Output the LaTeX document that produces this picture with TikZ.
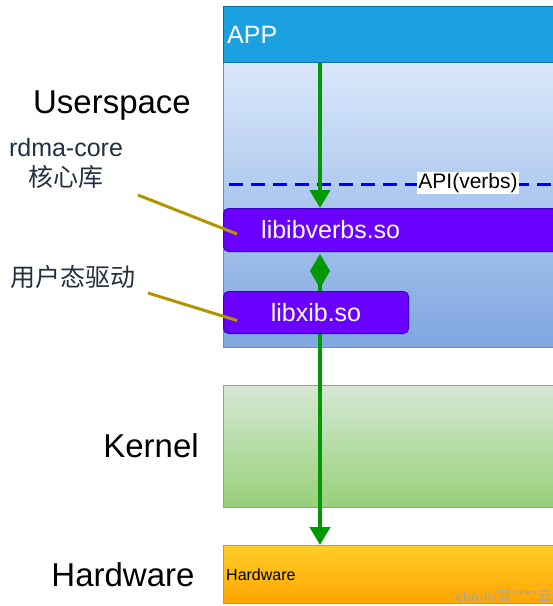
\documentclass[tikz,border=0pt]{standalone}
\usepackage{fontspec}
\setmainfont{Liberation Sans}
\newfontfamily\cjk{Noto Sans CJK SC}
\usetikzlibrary{arrows.meta,positioning}

\definecolor{appfill}{HTML}{1BA1E2}
\definecolor{appline}{HTML}{006EAF}
\definecolor{usertop}{HTML}{DAE8FC}
\definecolor{userbot}{HTML}{7EA6E0}
\definecolor{userline}{HTML}{6C8EBF}
\definecolor{libfill}{HTML}{6A00FF}
\definecolor{libline}{HTML}{3700CC}
\definecolor{kerntop}{HTML}{D5E8D4}
\definecolor{kernbot}{HTML}{97D077}
\definecolor{kernline}{HTML}{82B366}
\definecolor{hwtop}{HTML}{FFCD28}
\definecolor{hwbot}{HTML}{FFA500}
\definecolor{hwline}{HTML}{D79B00}
\definecolor{flowgreen}{HTML}{009900}
\definecolor{apiblue}{HTML}{0000EE}
\definecolor{pointerolive}{HTML}{B09500}
\definecolor{notetext}{HTML}{22303F}

\begin{document}
\begin{tikzpicture}[x=1pt,y=-1pt,
    layer/.style={draw, line width=1pt, inner sep=0pt, anchor=north west},
    lib/.style={layer, draw=libline, fill=libfill, rounded corners=5pt,
      text=white, font=\fontsize{25}{30}\selectfont},
    flow/.style={draw=flowgreen, line width=4pt},
    pointer/.style={draw=pointerolive, line width=3pt},
    side/.style={font=\fontsize{33}{40}\selectfont},
    note/.style={text=notetext, align=center, font=\fontsize{25}{30}\selectfont}]
  % 画布大小
  \useasboundingbox (0,0) rectangle (553,606);
  \clip (0,0) rectangle (553,606);
  % 各层的宽度
  \def\layerWidth{340pt}

  % 用户态、内核、硬件三层
  \node[layer, draw=userline, top color=usertop, bottom color=userbot,
    minimum width=\layerWidth, minimum height=285pt] (user) at (223,62) {};
  \node[layer, draw=kernline, top color=kerntop, bottom color=kernbot,
    minimum width=\layerWidth, minimum height=122pt] (kernel) at (223,385) {};
  \node[layer, draw=hwline, top color=hwtop, bottom color=hwbot,
    minimum width=\layerWidth, minimum height=58pt] (hw) at (223,545) {};
  \node[inner sep=0pt, right=3pt of hw.west, font=\fontsize{16}{19}\selectfont] (hwlbl) {Hardware};

  % 应用
  \node[layer, draw=appline, fill=appfill, minimum width=\layerWidth,
    minimum height=56pt] (app) at (223,6) {};
  \node[inner sep=0pt, right=4pt of app.west, text=white,
    font=\fontsize{25}{30}\selectfont] (applbl) {APP};

  % API 分界线
  \coordinate (apiL) at (229,184);
  \coordinate (apiR) at (560,184);
  \draw[apiblue, line width=3pt, dash pattern=on 14pt off 8pt] (apiL) -- (apiR);
  \node[fill=white, inner sep=1pt, font=\fontsize{21}{25}\selectfont] (api) at (468,183) {API(verbs)};

  % 两个库
  \node[lib, minimum width=\layerWidth, minimum height=43pt] (verbs) at (223,208) {};
  \node[inner sep=0pt, right=38pt of verbs.west, text=white,
    font=\fontsize{25}{30}\selectfont] (verbslbl) {libibverbs.so};
  \node[lib, minimum width=185pt, minimum height=42pt] (xib) at (223,291) {libxib.so};

  % 调用路径
  \coordinate (axis) at (320,0);
  \draw[flow, -{Triangle[width=20pt,length=18pt]}] (app.south -| axis) -- (verbs.north -| axis);
  \draw[flow, -{Diamond[width=20pt,length=34pt]}, shorten >=2pt] (xib.north -| axis) -- (verbs.south -| axis);
  \draw[flow, -{Triangle[width=20pt,length=18pt]}] (xib.south -| axis) -- (hw.north -| axis);

  % 左侧标签
  \node[side] (userside) at (112,106) {Userspace};
  \node[side] (kernside) at (151,446) {Kernel};
  \node[side] (hwside) at (123,575) {Hardware};
  \node[note] (corenote) at (66,163) {rdma-core\\{\cjk 核心库}};
  \node[note] (drvnote) at (73,277) {\cjk 用户态驱动};

  % 指示线
  \coordinate (coreP) at (138,195);
  \coordinate (drvP) at (148,293);
  \draw[pointer] (coreP) -- ([shift={(14,4)}]verbs.west);
  \draw[pointer] (drvP) -- ([shift={(14,8)}]xib.west);

  % 水印
  \node[anchor=south east, inner sep=1pt, text=gray!70,
    font=\cjk\fontsize{14}{16}\selectfont] (mark) at (553,606) {ctyun/吴****云};
\end{tikzpicture}
\end{document}
